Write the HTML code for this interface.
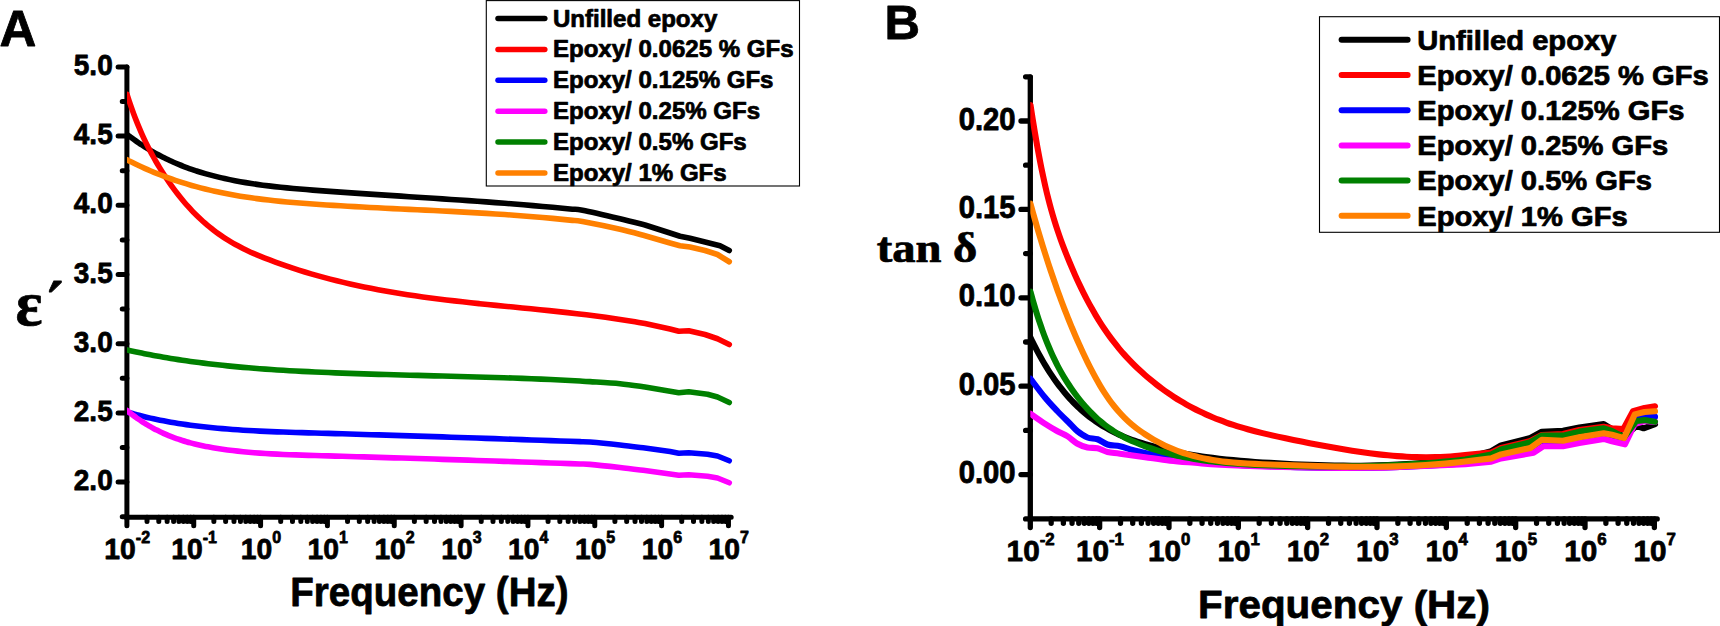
<!DOCTYPE html>
<html lang="en"><head><meta charset="utf-8"><title>Dielectric properties of epoxy / GF composites</title>
<style>html,body{margin:0;padding:0;background:#fff;overflow:hidden}svg{display:block}text{font-family:"Liberation Sans",sans-serif;font-weight:bold;fill:#000;stroke:#000;stroke-width:0.75px;stroke-linejoin:round}.serif{font-family:"Liberation Serif",serif;font-weight:bold}.ax{stroke:#000;stroke-linecap:round;fill:none}.cv{fill:none;stroke-linecap:round;stroke-linejoin:round}</style></head><body>
<svg width="1720" height="626" viewBox="0 0 1720 626">
<rect x="0" y="0" width="1720" height="626" fill="#ffffff"/>
<defs><clipPath id="clipA"><rect x="126.9" y="0" width="640" height="626"/></clipPath><clipPath id="clipB"><rect x="1030.3" y="0" width="690" height="626"/></clipPath></defs>
<g id="chartA" stroke-width="5">
<path class="ax" d="M126.90,66.90 V517.20 H731.20"/>
<path class="ax" d="M126.90,66.90 h-8.80 M126.90,136.10 h-8.80 M126.90,205.30 h-8.80 M126.90,274.50 h-8.80 M126.90,343.70 h-8.80 M126.90,412.90 h-8.80 M126.90,482.10 h-8.80 M126.90,101.50 h-4.65 M126.90,170.70 h-4.65 M126.90,239.90 h-4.65 M126.90,309.10 h-4.65 M126.90,378.30 h-4.65 M126.90,447.50 h-4.65 M126.90,516.70 h-4.65 M126.90,517.20 v8.60 M147.02,517.20 v4.20 M158.79,517.20 v4.20 M167.14,517.20 v4.20 M173.62,517.20 v4.20 M178.91,517.20 v4.20 M183.39,517.20 v4.20 M187.26,517.20 v4.20 M190.68,517.20 v4.20 M193.74,517.20 v8.60 M213.86,517.20 v4.20 M225.63,517.20 v4.20 M233.98,517.20 v4.20 M240.46,517.20 v4.20 M245.75,517.20 v4.20 M250.23,517.20 v4.20 M254.10,517.20 v4.20 M257.52,517.20 v4.20 M260.58,517.20 v8.60 M280.70,517.20 v4.20 M292.47,517.20 v4.20 M300.82,517.20 v4.20 M307.30,517.20 v4.20 M312.59,517.20 v4.20 M317.07,517.20 v4.20 M320.94,517.20 v4.20 M324.36,517.20 v4.20 M327.42,517.20 v8.60 M347.54,517.20 v4.20 M359.31,517.20 v4.20 M367.66,517.20 v4.20 M374.14,517.20 v4.20 M379.43,517.20 v4.20 M383.91,517.20 v4.20 M387.78,517.20 v4.20 M391.20,517.20 v4.20 M394.26,517.20 v8.60 M414.38,517.20 v4.20 M426.15,517.20 v4.20 M434.50,517.20 v4.20 M440.98,517.20 v4.20 M446.27,517.20 v4.20 M450.75,517.20 v4.20 M454.62,517.20 v4.20 M458.04,517.20 v4.20 M461.10,517.20 v8.60 M481.22,517.20 v4.20 M492.99,517.20 v4.20 M501.34,517.20 v4.20 M507.82,517.20 v4.20 M513.11,517.20 v4.20 M517.59,517.20 v4.20 M521.46,517.20 v4.20 M524.88,517.20 v4.20 M527.94,517.20 v8.60 M548.06,517.20 v4.20 M559.83,517.20 v4.20 M568.18,517.20 v4.20 M574.66,517.20 v4.20 M579.95,517.20 v4.20 M584.43,517.20 v4.20 M588.30,517.20 v4.20 M591.72,517.20 v4.20 M594.78,517.20 v8.60 M614.90,517.20 v4.20 M626.67,517.20 v4.20 M635.02,517.20 v4.20 M641.50,517.20 v4.20 M646.79,517.20 v4.20 M651.27,517.20 v4.20 M655.14,517.20 v4.20 M658.56,517.20 v4.20 M661.62,517.20 v8.60 M681.74,517.20 v4.20 M693.51,517.20 v4.20 M701.86,517.20 v4.20 M708.34,517.20 v4.20 M713.63,517.20 v4.20 M718.11,517.20 v4.20 M721.98,517.20 v4.20 M725.40,517.20 v4.20 M728.46,517.20 v8.60"/>
<g clip-path="url(#clipA)" stroke-width="5.6">
<path class="cv" stroke="#000000" d="M127.00,134.39 C127.37,134.67 128.45,135.51 129.21,136.08 C129.96,136.66 130.73,137.24 131.53,137.82 C132.32,138.40 133.12,138.99 133.95,139.59 C134.78,140.18 135.62,140.78 136.48,141.38 C137.34,141.98 138.23,142.59 139.12,143.20 C140.02,143.81 140.94,144.42 141.87,145.03 C142.81,145.64 143.76,146.26 144.73,146.87 C145.70,147.49 146.69,148.10 147.70,148.72 C148.70,149.34 149.73,149.95 150.77,150.57 C151.81,151.18 152.87,151.79 153.95,152.41 C155.03,153.02 156.13,153.63 157.24,154.23 C158.36,154.84 159.49,155.44 160.64,156.04 C161.79,156.64 162.96,157.24 164.14,157.83 C165.33,158.42 166.54,159.01 167.76,159.59 C168.98,160.17 170.22,160.75 171.48,161.32 C172.74,161.89 174.02,162.46 175.31,163.01 C176.61,163.57 177.92,164.12 179.25,164.67 C180.58,165.21 181.93,165.75 183.30,166.28 C184.66,166.81 186.05,167.33 187.45,167.84 C188.85,168.36 190.28,168.86 191.71,169.36 C193.15,169.86 194.61,170.35 196.09,170.83 C197.56,171.30 199.05,171.78 200.57,172.24 C202.08,172.70 203.61,173.15 205.15,173.60 C206.70,174.04 208.27,174.48 209.85,174.91 C211.43,175.33 213.03,175.75 214.65,176.16 C216.27,176.57 217.91,176.97 219.56,177.36 C221.22,177.76 222.89,178.14 224.58,178.52 C226.28,178.89 227.98,179.26 229.71,179.62 C231.44,179.98 233.18,180.33 234.95,180.67 C236.71,181.01 238.49,181.34 240.29,181.67 C242.09,181.99 243.91,182.31 245.75,182.62 C247.58,182.92 249.43,183.22 251.31,183.51 C253.18,183.80 255.07,184.08 256.97,184.36 C258.88,184.63 260.81,184.90 262.75,185.15 C264.70,185.41 266.66,185.66 268.64,185.90 C270.62,186.15 272.61,186.38 274.63,186.61 C276.65,186.83 278.68,187.05 280.73,187.27 C282.78,187.48 284.85,187.69 286.94,187.89 C289.03,188.09 291.13,188.29 293.26,188.48 C295.38,188.67 297.52,188.86 299.68,189.04 C301.84,189.22 304.02,189.40 306.22,189.57 C308.41,189.75 310.63,189.92 312.86,190.09 C315.09,190.26 317.34,190.43 319.61,190.60 C321.88,190.77 324.16,190.93 326.47,191.10 C328.77,191.27 331.09,191.44 333.43,191.60 C335.77,191.77 338.13,191.94 340.51,192.10 C342.89,192.27 345.28,192.44 347.69,192.60 C350.10,192.77 352.53,192.94 354.98,193.10 C357.43,193.27 359.90,193.44 362.38,193.61 C364.87,193.77 367.37,193.94 369.89,194.11 C372.41,194.27 374.95,194.44 377.50,194.61 C380.06,194.78 382.64,194.95 385.23,195.12 C387.82,195.29 390.43,195.46 393.06,195.63 C395.69,195.80 398.33,195.97 401.00,196.14 C403.66,196.32 406.35,196.49 409.05,196.67 C411.75,196.84 414.47,197.02 417.20,197.20 C419.94,197.38 422.69,197.55 425.47,197.74 C428.24,197.92 431.03,198.10 433.84,198.29 C436.65,198.47 439.47,198.66 442.32,198.85 C445.16,199.04 448.03,199.23 450.91,199.42 C453.79,199.62 456.69,199.82 459.60,200.02 C462.52,200.22 465.46,200.42 468.41,200.63 C471.36,200.83 474.33,201.04 477.32,201.26 C480.31,201.47 483.32,201.69 486.34,201.91 C489.37,202.13 492.41,202.36 495.47,202.59 C498.53,202.82 501.61,203.05 504.71,203.29 C507.81,203.53 510.92,203.78 514.05,204.03 C517.19,204.28 520.34,204.53 523.51,204.80 C526.68,205.06 529.86,205.33 533.07,205.60 C536.27,205.88 539.50,206.16 542.74,206.44 C545.98,206.73 549.24,207.03 552.52,207.33 C555.79,207.63 559.09,207.94 562.40,208.26 C565.72,208.58 569.05,208.91 572.40,209.24 C575.75,209.58 574.57,208.70 582.50,210.28 C590.43,211.86 609.58,216.30 620.00,218.75 C630.42,221.20 640.83,223.96 645.00,225.00 L670.00,233.00 L680.00,236.25 L690.00,238.25 L705.00,242.00 L720.00,245.75 L729.25,250.50"/>
<path class="cv" stroke="#ff0000" d="M127.00,94.36 C127.36,95.48 128.44,98.84 129.18,101.06 C129.92,103.28 130.68,105.49 131.45,107.68 C132.23,109.88 133.01,112.06 133.82,114.22 C134.62,116.38 135.44,118.52 136.28,120.64 C137.11,122.76 137.96,124.86 138.83,126.93 C139.70,129.01 140.58,131.06 141.48,133.08 C142.37,135.11 143.29,137.11 144.21,139.09 C145.14,141.07 146.09,143.02 147.05,144.95 C148.01,146.88 148.98,148.78 149.97,150.67 C150.96,152.55 151.97,154.41 152.99,156.26 C154.01,158.10 155.05,159.92 156.10,161.73 C157.15,163.55 158.22,165.34 159.31,167.13 C160.39,168.92 161.49,170.69 162.60,172.45 C163.72,174.21 164.85,175.96 166.00,177.69 C167.14,179.42 168.30,181.13 169.48,182.83 C170.66,184.52 171.85,186.20 173.06,187.86 C174.27,189.52 175.49,191.16 176.73,192.77 C177.97,194.39 179.22,195.98 180.49,197.55 C181.76,199.13 183.05,200.68 184.35,202.20 C185.65,203.73 186.97,205.23 188.30,206.70 C189.63,208.18 190.98,209.63 192.34,211.06 C193.71,212.49 195.09,213.89 196.48,215.26 C197.87,216.64 199.28,217.99 200.71,219.31 C202.14,220.63 203.58,221.92 205.03,223.19 C206.49,224.46 207.96,225.70 209.45,226.91 C210.94,228.12 212.44,229.31 213.96,230.46 C215.48,231.62 217.01,232.75 218.56,233.85 C220.11,234.96 221.68,236.03 223.26,237.08 C224.84,238.13 226.44,239.15 228.05,240.15 C229.66,241.14 231.29,242.11 232.93,243.06 C234.57,244.00 236.23,244.92 237.91,245.82 C239.58,246.72 241.27,247.59 242.97,248.45 C244.68,249.30 246.40,250.13 248.14,250.94 C249.87,251.76 251.62,252.55 253.39,253.33 C255.16,254.10 256.94,254.86 258.74,255.61 C260.54,256.36 262.35,257.09 264.18,257.82 C266.01,258.54 267.86,259.25 269.72,259.96 C271.58,260.67 273.45,261.37 275.35,262.06 C277.24,262.76 279.14,263.45 281.07,264.13 C282.99,264.81 284.93,265.49 286.88,266.16 C288.83,266.83 290.80,267.49 292.79,268.14 C294.77,268.80 296.77,269.45 298.79,270.09 C300.81,270.73 302.84,271.36 304.88,271.99 C306.93,272.61 308.99,273.23 311.07,273.84 C313.15,274.45 315.24,275.06 317.35,275.65 C319.46,276.25 321.59,276.83 323.73,277.41 C325.87,277.99 328.02,278.56 330.19,279.13 C332.36,279.69 334.55,280.24 336.75,280.79 C338.95,281.33 341.17,281.87 343.41,282.40 C345.64,282.93 347.89,283.45 350.15,283.96 C352.42,284.48 354.70,284.98 356.99,285.48 C359.29,285.97 361.60,286.46 363.92,286.94 C366.25,287.42 368.59,287.89 370.95,288.35 C373.31,288.81 375.68,289.26 378.07,289.71 C380.46,290.16 382.86,290.59 385.28,291.02 C387.70,291.45 390.14,291.88 392.59,292.29 C395.04,292.70 397.51,293.11 399.99,293.51 C402.47,293.91 404.97,294.30 407.48,294.68 C409.99,295.07 412.52,295.44 415.07,295.81 C417.61,296.18 420.17,296.55 422.74,296.90 C425.32,297.26 427.91,297.61 430.52,297.95 C433.12,298.30 435.74,298.64 438.38,298.97 C441.02,299.30 443.67,299.63 446.34,299.95 C449.01,300.27 451.69,300.59 454.39,300.90 C457.09,301.21 459.80,301.52 462.53,301.83 C465.27,302.13 468.01,302.43 470.77,302.73 C473.53,303.03 476.31,303.32 479.10,303.61 C481.90,303.91 484.70,304.19 487.53,304.48 C490.35,304.77 493.19,305.06 496.05,305.34 C498.90,305.63 501.77,305.92 504.66,306.20 C507.54,306.49 510.44,306.77 513.36,307.06 C516.28,307.35 519.21,307.64 522.16,307.93 C525.10,308.22 528.07,308.51 531.05,308.81 C534.03,309.11 537.02,309.41 540.03,309.72 C543.04,310.02 546.07,310.33 549.11,310.65 C552.15,310.97 555.20,311.29 558.28,311.62 C561.35,311.95 564.44,312.29 567.54,312.64 C570.64,312.98 573.76,313.34 576.90,313.70 C580.03,314.07 583.18,314.45 586.35,314.84 C589.51,315.22 592.69,315.62 595.89,316.04 C599.09,316.45 602.30,316.88 605.52,317.33 C608.75,317.77 611.99,318.23 615.25,318.71 C618.51,319.18 621.79,319.67 625.08,320.19 C628.37,320.70 631.67,321.23 634.99,321.79 C638.31,322.34 643.33,323.23 645.00,323.52 L670.00,329.00 L678.75,331.25 L688.75,330.75 L705.00,334.50 L717.50,338.75 L729.25,344.50"/>
<path class="cv" stroke="#0000ff" d="M127.00,412.01 C127.36,412.12 128.44,412.43 129.18,412.65 C129.93,412.87 130.69,413.08 131.47,413.30 C132.25,413.53 133.05,413.75 133.87,413.97 C134.68,414.20 135.51,414.42 136.36,414.65 C137.21,414.88 138.08,415.10 138.96,415.33 C139.85,415.56 140.75,415.79 141.67,416.03 C142.59,416.26 143.52,416.49 144.48,416.72 C145.43,416.95 146.40,417.18 147.39,417.42 C148.38,417.65 149.39,417.88 150.41,418.11 C151.43,418.34 152.47,418.58 153.53,418.81 C154.59,419.04 155.67,419.27 156.76,419.50 C157.85,419.73 158.96,419.95 160.09,420.18 C161.22,420.41 162.36,420.63 163.52,420.85 C164.69,421.08 165.87,421.30 167.06,421.52 C168.26,421.74 169.48,421.96 170.71,422.17 C171.94,422.39 173.19,422.60 174.45,422.81 C175.72,423.02 177.00,423.23 178.31,423.44 C179.61,423.64 180.93,423.85 182.26,424.05 C183.60,424.25 184.95,424.45 186.32,424.64 C187.69,424.83 189.08,425.03 190.49,425.21 C191.89,425.40 193.31,425.59 194.75,425.77 C196.19,425.95 197.65,426.13 199.13,426.30 C200.60,426.48 202.09,426.65 203.60,426.81 C205.11,426.98 206.64,427.15 208.19,427.31 C209.73,427.47 211.29,427.62 212.87,427.78 C214.45,427.93 216.05,428.08 217.66,428.23 C219.27,428.37 220.91,428.52 222.55,428.66 C224.20,428.80 225.87,428.93 227.55,429.07 C229.24,429.20 230.94,429.33 232.65,429.45 C234.37,429.58 236.11,429.70 237.86,429.82 C239.61,429.94 241.38,430.06 243.17,430.17 C244.96,430.28 246.76,430.39 248.59,430.49 C250.41,430.60 252.25,430.70 254.10,430.80 C255.96,430.90 257.84,431.00 259.73,431.09 C261.62,431.18 263.53,431.27 265.46,431.36 C267.38,431.44 269.33,431.53 271.29,431.61 C273.25,431.69 275.23,431.77 277.22,431.85 C279.22,431.92 281.23,432.00 283.26,432.07 C285.29,432.14 287.34,432.21 289.41,432.28 C291.47,432.35 293.55,432.41 295.66,432.48 C297.76,432.54 299.87,432.61 302.01,432.67 C304.14,432.73 306.29,432.80 308.46,432.86 C310.63,432.92 312.82,432.98 315.03,433.04 C317.23,433.11 319.45,433.17 321.69,433.23 C323.93,433.30 326.19,433.36 328.46,433.42 C330.73,433.49 333.03,433.56 335.33,433.62 C337.64,433.69 339.97,433.76 342.31,433.82 C344.66,433.89 347.02,433.96 349.39,434.03 C351.77,434.10 354.17,434.17 356.58,434.24 C358.99,434.31 361.42,434.39 363.87,434.46 C366.32,434.53 368.78,434.61 371.27,434.68 C373.75,434.76 376.25,434.83 378.76,434.91 C381.28,434.98 383.82,435.06 386.37,435.14 C388.92,435.22 391.49,435.30 394.07,435.38 C396.66,435.46 399.27,435.54 401.89,435.62 C404.51,435.70 407.15,435.78 409.80,435.87 C412.46,435.95 415.13,436.03 417.82,436.12 C420.51,436.20 423.22,436.29 425.95,436.38 C428.67,436.47 431.41,436.55 434.17,436.64 C436.93,436.73 439.71,436.82 442.51,436.91 C445.30,437.00 448.11,437.09 450.94,437.19 C453.77,437.28 456.62,437.37 459.48,437.47 C462.35,437.56 465.23,437.66 468.13,437.75 C471.03,437.85 473.95,437.95 476.88,438.05 C479.81,438.15 482.76,438.25 485.73,438.35 C488.70,438.45 491.69,438.55 494.69,438.65 C497.69,438.75 500.71,438.86 503.75,438.96 C506.79,439.06 509.85,439.17 512.92,439.28 C515.99,439.38 519.08,439.49 522.19,439.60 C525.30,439.71 528.42,439.82 531.56,439.93 C534.71,440.04 537.87,440.15 541.04,440.26 C544.22,440.38 547.41,440.49 550.63,440.60 C553.84,440.72 557.07,440.83 560.31,440.95 C563.56,441.07 566.82,441.19 570.10,441.30 C573.39,441.42 576.68,441.54 580.00,441.66 C583.32,441.78 583.33,441.47 590.00,442.03 C596.67,442.59 610.83,444.00 620.00,445.00 C629.17,446.00 640.83,447.50 645.00,448.00 L670.00,451.50 L678.75,453.25 L688.75,452.75 L707.50,454.25 L717.50,456.00 L729.25,460.75"/>
<path class="cv" stroke="#ff00ff" d="M127.00,410.52 C127.36,410.81 128.44,411.69 129.18,412.29 C129.93,412.88 130.69,413.48 131.47,414.08 C132.25,414.68 133.05,415.28 133.87,415.88 C134.68,416.49 135.51,417.09 136.36,417.70 C137.21,418.31 138.08,418.91 138.96,419.52 C139.85,420.13 140.75,420.73 141.67,421.34 C142.59,421.94 143.52,422.54 144.48,423.14 C145.43,423.74 146.40,424.34 147.39,424.93 C148.38,425.52 149.39,426.11 150.41,426.69 C151.43,427.27 152.47,427.85 153.53,428.42 C154.59,428.99 155.67,429.56 156.76,430.11 C157.85,430.67 158.96,431.22 160.09,431.77 C161.22,432.31 162.36,432.84 163.52,433.37 C164.69,433.89 165.87,434.41 167.06,434.92 C168.26,435.43 169.48,435.92 170.71,436.41 C171.94,436.90 173.19,437.38 174.45,437.84 C175.72,438.31 177.00,438.77 178.31,439.21 C179.61,439.66 180.93,440.09 182.26,440.51 C183.60,440.93 184.95,441.34 186.32,441.74 C187.69,442.14 189.08,442.53 190.49,442.90 C191.89,443.28 193.31,443.64 194.75,444.00 C196.19,444.35 197.65,444.69 199.13,445.02 C200.60,445.35 202.09,445.67 203.60,445.98 C205.11,446.29 206.64,446.58 208.19,446.87 C209.73,447.16 211.29,447.44 212.87,447.71 C214.45,447.98 216.05,448.23 217.66,448.49 C219.27,448.74 220.91,448.98 222.55,449.22 C224.20,449.46 225.87,449.69 227.55,449.91 C229.24,450.13 230.94,450.34 232.65,450.55 C234.37,450.76 236.11,450.96 237.86,451.15 C239.61,451.34 241.38,451.53 243.17,451.71 C244.96,451.88 246.76,452.06 248.59,452.22 C250.41,452.38 252.25,452.54 254.10,452.69 C255.96,452.84 257.84,452.98 259.73,453.11 C261.62,453.25 263.53,453.38 265.46,453.50 C267.38,453.62 269.33,453.74 271.29,453.85 C273.25,453.96 275.23,454.06 277.22,454.16 C279.22,454.26 281.23,454.35 283.26,454.44 C285.29,454.53 287.34,454.61 289.41,454.70 C291.47,454.78 293.55,454.85 295.66,454.92 C297.76,455.00 299.87,455.07 302.01,455.13 C304.14,455.20 306.29,455.27 308.46,455.33 C310.63,455.39 312.82,455.46 315.03,455.52 C317.23,455.58 319.45,455.64 321.69,455.70 C323.93,455.77 326.19,455.83 328.46,455.90 C330.73,455.96 333.03,456.03 335.33,456.09 C337.64,456.16 339.97,456.22 342.31,456.29 C344.66,456.36 347.02,456.43 349.39,456.50 C351.77,456.57 354.17,456.64 356.58,456.71 C358.99,456.78 361.42,456.85 363.87,456.92 C366.32,456.99 368.78,457.07 371.27,457.14 C373.75,457.21 376.25,457.29 378.76,457.36 C381.28,457.44 383.82,457.52 386.37,457.59 C388.92,457.67 391.49,457.75 394.07,457.83 C396.66,457.90 399.27,457.98 401.89,458.07 C404.51,458.15 407.15,458.23 409.80,458.31 C412.46,458.39 415.13,458.47 417.82,458.56 C420.51,458.64 423.22,458.73 425.95,458.81 C428.67,458.90 431.41,458.99 434.17,459.07 C436.93,459.16 439.71,459.25 442.51,459.34 C445.30,459.43 448.11,459.52 450.94,459.61 C453.77,459.70 456.62,459.79 459.48,459.88 C462.35,459.98 465.23,460.07 468.13,460.17 C471.03,460.26 473.95,460.36 476.88,460.45 C479.81,460.55 482.76,460.65 485.73,460.75 C488.70,460.85 491.69,460.95 494.69,461.05 C497.69,461.15 500.71,461.25 503.75,461.35 C506.79,461.45 509.85,461.56 512.92,461.66 C515.99,461.77 519.08,461.87 522.19,461.98 C525.30,462.08 528.42,462.19 531.56,462.30 C534.71,462.41 537.87,462.52 541.04,462.63 C544.22,462.74 547.41,462.85 550.63,462.96 C553.84,463.08 557.07,463.19 560.31,463.30 C563.56,463.42 566.82,463.53 570.10,463.65 C573.39,463.77 576.68,463.89 580.00,464.00 C583.32,464.12 583.33,463.78 590.00,464.36 C596.67,464.95 610.83,466.48 620.00,467.50 C629.17,468.52 640.83,470.00 645.00,470.50 L670.00,474.00 L678.75,475.25 L688.75,474.75 L707.50,476.25 L717.50,478.00 L729.25,482.75"/>
<path class="cv" stroke="#008000" d="M127.00,349.95 C127.36,350.03 128.44,350.28 129.18,350.44 C129.93,350.61 130.69,350.77 131.47,350.94 C132.25,351.11 133.05,351.29 133.87,351.46 C134.68,351.64 135.51,351.81 136.36,351.99 C137.21,352.17 138.08,352.35 138.96,352.54 C139.85,352.72 140.75,352.90 141.67,353.09 C142.59,353.28 143.52,353.46 144.48,353.65 C145.43,353.84 146.40,354.04 147.39,354.23 C148.38,354.42 149.39,354.61 150.41,354.81 C151.43,355.00 152.47,355.20 153.53,355.40 C154.59,355.59 155.67,355.79 156.76,355.99 C157.85,356.19 158.96,356.39 160.09,356.59 C161.22,356.79 162.36,356.99 163.52,357.19 C164.69,357.39 165.87,357.59 167.06,357.80 C168.26,358.00 169.48,358.20 170.71,358.40 C171.94,358.60 173.19,358.80 174.45,359.01 C175.72,359.21 177.00,359.41 178.31,359.61 C179.61,359.81 180.93,360.01 182.26,360.21 C183.60,360.41 184.95,360.61 186.32,360.81 C187.69,361.00 189.08,361.20 190.49,361.40 C191.89,361.60 193.31,361.79 194.75,361.99 C196.19,362.18 197.65,362.37 199.13,362.57 C200.60,362.76 202.09,362.95 203.60,363.14 C205.11,363.33 206.64,363.52 208.19,363.70 C209.73,363.89 211.29,364.07 212.87,364.26 C214.45,364.44 216.05,364.62 217.66,364.80 C219.27,364.98 220.91,365.16 222.55,365.33 C224.20,365.51 225.87,365.68 227.55,365.86 C229.24,366.03 230.94,366.20 232.65,366.36 C234.37,366.53 236.11,366.70 237.86,366.86 C239.61,367.02 241.38,367.18 243.17,367.34 C244.96,367.50 246.76,367.65 248.59,367.81 C250.41,367.96 252.25,368.11 254.10,368.26 C255.96,368.41 257.84,368.56 259.73,368.70 C261.62,368.84 263.53,368.98 265.46,369.12 C267.38,369.26 269.33,369.40 271.29,369.53 C273.25,369.66 275.23,369.79 277.22,369.92 C279.22,370.05 281.23,370.18 283.26,370.30 C285.29,370.43 287.34,370.55 289.41,370.67 C291.47,370.78 293.55,370.90 295.66,371.02 C297.76,371.13 299.87,371.24 302.01,371.35 C304.14,371.46 306.29,371.57 308.46,371.67 C310.63,371.78 312.82,371.88 315.03,371.99 C317.23,372.09 319.45,372.19 321.69,372.29 C323.93,372.38 326.19,372.48 328.46,372.57 C330.73,372.67 333.03,372.76 335.33,372.85 C337.64,372.95 339.97,373.04 342.31,373.12 C344.66,373.21 347.02,373.30 349.39,373.38 C351.77,373.47 354.17,373.55 356.58,373.64 C358.99,373.72 361.42,373.80 363.87,373.88 C366.32,373.96 368.78,374.04 371.27,374.11 C373.75,374.19 376.25,374.27 378.76,374.34 C381.28,374.42 383.82,374.49 386.37,374.56 C388.92,374.64 391.49,374.71 394.07,374.78 C396.66,374.85 399.27,374.92 401.89,374.99 C404.51,375.07 407.15,375.13 409.80,375.20 C412.46,375.27 415.13,375.34 417.82,375.41 C420.51,375.48 423.22,375.55 425.95,375.62 C428.67,375.69 431.41,375.76 434.17,375.83 C436.93,375.90 439.71,375.97 442.51,376.04 C445.30,376.11 448.11,376.18 450.94,376.26 C453.77,376.33 456.62,376.40 459.48,376.48 C462.35,376.55 465.23,376.63 468.13,376.71 C471.03,376.79 473.95,376.87 476.88,376.95 C479.81,377.03 482.76,377.12 485.73,377.21 C488.70,377.29 491.69,377.38 494.69,377.47 C497.69,377.57 500.71,377.66 503.75,377.76 C506.79,377.86 509.85,377.96 512.92,378.07 C515.99,378.17 519.08,378.28 522.19,378.40 C525.30,378.51 528.42,378.63 531.56,378.76 C534.71,378.88 537.87,379.01 541.04,379.14 C544.22,379.28 547.41,379.42 550.63,379.56 C553.84,379.71 557.07,379.86 560.31,380.02 C563.56,380.18 566.82,380.34 570.10,380.52 C573.39,380.69 576.68,380.87 580.00,381.06 C583.32,381.25 583.33,381.20 590.00,381.65 C596.67,382.10 610.83,382.86 620.00,383.75 C629.17,384.64 640.83,386.46 645.00,387.00 L670.00,391.25 L678.75,392.75 L688.75,391.75 L707.50,394.25 L717.50,397.00 L729.25,402.50"/>
<path class="cv" stroke="#ff8000" d="M127.00,159.77 C127.37,159.96 128.45,160.52 129.21,160.91 C129.96,161.29 130.73,161.69 131.53,162.08 C132.32,162.48 133.12,162.88 133.95,163.29 C134.78,163.70 135.62,164.11 136.48,164.52 C137.34,164.94 138.23,165.36 139.12,165.78 C140.02,166.20 140.94,166.63 141.87,167.06 C142.81,167.49 143.76,167.92 144.73,168.36 C145.70,168.79 146.69,169.23 147.70,169.67 C148.70,170.11 149.73,170.55 150.77,171.00 C151.81,171.44 152.87,171.88 153.95,172.33 C155.03,172.78 156.13,173.22 157.24,173.67 C158.36,174.12 159.49,174.56 160.64,175.01 C161.79,175.46 162.96,175.90 164.14,176.35 C165.33,176.80 166.54,177.24 167.76,177.69 C168.98,178.13 170.22,178.57 171.48,179.01 C172.74,179.45 174.02,179.89 175.31,180.33 C176.61,180.77 177.92,181.20 179.25,181.64 C180.58,182.07 181.93,182.50 183.30,182.92 C184.66,183.35 186.05,183.77 187.45,184.19 C188.85,184.61 190.28,185.02 191.71,185.44 C193.15,185.85 194.61,186.25 196.09,186.66 C197.56,187.06 199.05,187.46 200.57,187.85 C202.08,188.24 203.61,188.63 205.15,189.01 C206.70,189.39 208.27,189.77 209.85,190.14 C211.43,190.52 213.03,190.88 214.65,191.24 C216.27,191.60 217.91,191.96 219.56,192.30 C221.22,192.65 222.89,192.99 224.58,193.33 C226.28,193.66 227.98,193.99 229.71,194.31 C231.44,194.63 233.18,194.95 234.95,195.26 C236.71,195.57 238.49,195.87 240.29,196.16 C242.09,196.46 243.91,196.75 245.75,197.03 C247.58,197.31 249.43,197.58 251.31,197.85 C253.18,198.12 255.07,198.38 256.97,198.63 C258.88,198.89 260.81,199.13 262.75,199.37 C264.70,199.61 266.66,199.85 268.64,200.08 C270.62,200.30 272.61,200.52 274.63,200.74 C276.65,200.95 278.68,201.16 280.73,201.36 C282.78,201.57 284.85,201.76 286.94,201.95 C289.03,202.15 291.13,202.33 293.26,202.51 C295.38,202.69 297.52,202.87 299.68,203.04 C301.84,203.21 304.02,203.38 306.22,203.54 C308.41,203.71 310.63,203.87 312.86,204.02 C315.09,204.18 317.34,204.34 319.61,204.49 C321.88,204.64 324.16,204.79 326.47,204.94 C328.77,205.09 331.09,205.23 333.43,205.38 C335.77,205.52 338.13,205.66 340.51,205.81 C342.89,205.95 345.28,206.09 347.69,206.22 C350.10,206.36 352.53,206.50 354.98,206.63 C357.43,206.77 359.90,206.90 362.38,207.04 C364.87,207.17 367.37,207.30 369.89,207.43 C372.41,207.56 374.95,207.69 377.50,207.82 C380.06,207.95 382.64,208.08 385.23,208.21 C387.82,208.33 390.43,208.46 393.06,208.59 C395.69,208.72 398.33,208.85 401.00,208.98 C403.66,209.10 406.35,209.23 409.05,209.36 C411.75,209.49 414.47,209.62 417.20,209.75 C419.94,209.89 422.69,210.02 425.47,210.15 C428.24,210.29 431.03,210.42 433.84,210.56 C436.65,210.70 439.47,210.84 442.32,210.98 C445.16,211.13 448.03,211.27 450.91,211.42 C453.79,211.57 456.69,211.72 459.60,211.88 C462.52,212.03 465.46,212.19 468.41,212.35 C471.36,212.52 474.33,212.69 477.32,212.86 C480.31,213.03 483.32,213.21 486.34,213.39 C489.37,213.58 492.41,213.77 495.47,213.97 C498.53,214.16 501.61,214.36 504.71,214.58 C507.81,214.79 510.92,215.00 514.05,215.23 C517.19,215.46 520.34,215.69 523.51,215.93 C526.68,216.18 529.86,216.43 533.07,216.69 C536.27,216.95 539.50,217.23 542.74,217.51 C545.98,217.79 549.24,218.09 552.52,218.39 C555.79,218.70 559.09,219.02 562.40,219.35 C565.72,219.68 569.05,220.03 572.40,220.39 C575.75,220.75 574.57,220.03 582.50,221.51 C590.43,222.99 609.58,226.88 620.00,229.25 C630.42,231.62 640.83,234.67 645.00,235.75 L670.00,243.00 L680.00,245.75 L690.00,247.00 L705.00,250.50 L717.50,254.50 L729.25,261.75"/>
</g>
<text transform="translate(112.70,75.00) scale(1.000,1.070)" font-size="28" text-anchor="end">5.0</text>
<text transform="translate(112.70,144.20) scale(1.000,1.070)" font-size="28" text-anchor="end">4.5</text>
<text transform="translate(112.70,213.40) scale(1.000,1.070)" font-size="28" text-anchor="end">4.0</text>
<text transform="translate(112.70,282.60) scale(1.000,1.070)" font-size="28" text-anchor="end">3.5</text>
<text transform="translate(112.70,351.80) scale(1.000,1.070)" font-size="28" text-anchor="end">3.0</text>
<text transform="translate(112.70,421.00) scale(1.000,1.070)" font-size="28" text-anchor="end">2.5</text>
<text transform="translate(112.70,490.20) scale(1.000,1.070)" font-size="28" text-anchor="end">2.0</text>
<text transform="translate(127.20,559.00) scale(1.000,1.050)" font-size="28.3" text-anchor="middle">10<tspan font-size="16" dy="-14.9">-2</tspan></text>
<text transform="translate(194.04,559.00) scale(1.000,1.050)" font-size="28.3" text-anchor="middle">10<tspan font-size="16" dy="-14.9">-1</tspan></text>
<text transform="translate(260.88,559.00) scale(1.000,1.050)" font-size="28.3" text-anchor="middle">10<tspan font-size="16" dy="-14.9">0</tspan></text>
<text transform="translate(327.72,559.00) scale(1.000,1.050)" font-size="28.3" text-anchor="middle">10<tspan font-size="16" dy="-14.9">1</tspan></text>
<text transform="translate(394.56,559.00) scale(1.000,1.050)" font-size="28.3" text-anchor="middle">10<tspan font-size="16" dy="-14.9">2</tspan></text>
<text transform="translate(461.40,559.00) scale(1.000,1.050)" font-size="28.3" text-anchor="middle">10<tspan font-size="16" dy="-14.9">3</tspan></text>
<text transform="translate(528.24,559.00) scale(1.000,1.050)" font-size="28.3" text-anchor="middle">10<tspan font-size="16" dy="-14.9">4</tspan></text>
<text transform="translate(595.08,559.00) scale(1.000,1.050)" font-size="28.3" text-anchor="middle">10<tspan font-size="16" dy="-14.9">5</tspan></text>
<text transform="translate(661.92,559.00) scale(1.000,1.050)" font-size="28.3" text-anchor="middle">10<tspan font-size="16" dy="-14.9">6</tspan></text>
<text transform="translate(728.76,559.00) scale(1.000,1.050)" font-size="28.3" text-anchor="middle">10<tspan font-size="16" dy="-14.9">7</tspan></text>
<text transform="translate(290.30,605.70) scale(0.988,1.040)" font-size="39">Frequency (Hz)</text>
<text transform="translate(-0.60,46.20) scale(1.030,1.000)" font-size="49.5">A</text>
<text transform="translate(15.50,325.00) scale(0.985,0.985)" font-size="64" class="serif">ε</text>
<text transform="translate(45.30,331.00) scale(0.870,1.120)" font-size="64" class="serif">´</text>
<rect x="486.30" y="0.60" width="313.20" height="185.40" fill="#fff" stroke="#000" stroke-width="1.1"/>
<path class="cv" stroke="#000000" stroke-width="5.5" d="M498.00,18.60 H544.80"/>
<text transform="translate(552.90,26.50) scale(1.003,1.000)" font-size="24">Unfilled epoxy</text>
<path class="cv" stroke="#ff0000" stroke-width="5.5" d="M498.00,49.46 H544.80"/>
<text transform="translate(552.90,57.36) scale(1.003,1.000)" font-size="24">Epoxy/ 0.0625 % GFs</text>
<path class="cv" stroke="#0000ff" stroke-width="5.5" d="M498.00,80.32 H544.80"/>
<text transform="translate(552.90,88.22) scale(1.003,1.000)" font-size="24">Epoxy/ 0.125% GFs</text>
<path class="cv" stroke="#ff00ff" stroke-width="5.5" d="M498.00,111.18 H544.80"/>
<text transform="translate(552.90,119.08) scale(1.003,1.000)" font-size="24">Epoxy/ 0.25% GFs</text>
<path class="cv" stroke="#008000" stroke-width="5.5" d="M498.00,142.04 H544.80"/>
<text transform="translate(552.90,149.94) scale(1.003,1.000)" font-size="24">Epoxy/ 0.5% GFs</text>
<path class="cv" stroke="#ff8000" stroke-width="5.5" d="M498.00,172.90 H544.80"/>
<text transform="translate(552.90,180.80) scale(1.003,1.000)" font-size="24">Epoxy/ 1% GFs</text>
</g>
<g id="chartB" stroke-width="5.3">
<path class="ax" d="M1030.30,77.10 V518.90 H1657.20"/>
<path class="ax" d="M1030.30,121.00 h-9.30 M1030.30,209.40 h-9.30 M1030.30,297.80 h-9.30 M1030.30,386.20 h-9.30 M1030.30,474.60 h-9.30 M1030.30,76.80 h-4.70 M1030.30,165.20 h-4.70 M1030.30,253.60 h-4.70 M1030.30,342.00 h-4.70 M1030.30,430.40 h-4.70 M1030.30,518.90 h-4.70 M1030.30,518.90 v8.60 M1051.17,518.90 v4.40 M1063.38,518.90 v4.40 M1072.05,518.90 v4.40 M1078.77,518.90 v4.40 M1084.26,518.90 v4.40 M1088.90,518.90 v4.40 M1092.92,518.90 v4.40 M1096.47,518.90 v4.40 M1099.64,518.90 v8.60 M1120.51,518.90 v4.40 M1132.72,518.90 v4.40 M1141.39,518.90 v4.40 M1148.11,518.90 v4.40 M1153.60,518.90 v4.40 M1158.24,518.90 v4.40 M1162.26,518.90 v4.40 M1165.81,518.90 v4.40 M1168.98,518.90 v8.60 M1189.85,518.90 v4.40 M1202.06,518.90 v4.40 M1210.73,518.90 v4.40 M1217.45,518.90 v4.40 M1222.94,518.90 v4.40 M1227.58,518.90 v4.40 M1231.60,518.90 v4.40 M1235.15,518.90 v4.40 M1238.32,518.90 v8.60 M1259.19,518.90 v4.40 M1271.40,518.90 v4.40 M1280.07,518.90 v4.40 M1286.79,518.90 v4.40 M1292.28,518.90 v4.40 M1296.92,518.90 v4.40 M1300.94,518.90 v4.40 M1304.49,518.90 v4.40 M1307.66,518.90 v8.60 M1328.53,518.90 v4.40 M1340.74,518.90 v4.40 M1349.41,518.90 v4.40 M1356.13,518.90 v4.40 M1361.62,518.90 v4.40 M1366.26,518.90 v4.40 M1370.28,518.90 v4.40 M1373.83,518.90 v4.40 M1377.00,518.90 v8.60 M1397.87,518.90 v4.40 M1410.08,518.90 v4.40 M1418.75,518.90 v4.40 M1425.47,518.90 v4.40 M1430.96,518.90 v4.40 M1435.60,518.90 v4.40 M1439.62,518.90 v4.40 M1443.17,518.90 v4.40 M1446.34,518.90 v8.60 M1467.21,518.90 v4.40 M1479.42,518.90 v4.40 M1488.09,518.90 v4.40 M1494.81,518.90 v4.40 M1500.30,518.90 v4.40 M1504.94,518.90 v4.40 M1508.96,518.90 v4.40 M1512.51,518.90 v4.40 M1515.68,518.90 v8.60 M1536.55,518.90 v4.40 M1548.76,518.90 v4.40 M1557.43,518.90 v4.40 M1564.15,518.90 v4.40 M1569.64,518.90 v4.40 M1574.28,518.90 v4.40 M1578.30,518.90 v4.40 M1581.85,518.90 v4.40 M1585.02,518.90 v8.60 M1605.89,518.90 v4.40 M1618.10,518.90 v4.40 M1626.77,518.90 v4.40 M1633.49,518.90 v4.40 M1638.98,518.90 v4.40 M1643.62,518.90 v4.40 M1647.64,518.90 v4.40 M1651.19,518.90 v4.40 M1654.36,518.90 v8.60"/>
<g clip-path="url(#clipB)" stroke-width="6.1">
<path class="cv" stroke="#000000" d="M1030.50,337.67 C1030.87,338.42 1031.95,340.66 1032.70,342.17 C1033.45,343.69 1034.22,345.22 1035.01,346.75 C1035.80,348.29 1036.61,349.83 1037.43,351.38 C1038.26,352.93 1039.10,354.49 1039.97,356.04 C1040.83,357.60 1041.71,359.16 1042.62,360.72 C1043.52,362.27 1044.44,363.83 1045.38,365.38 C1046.31,366.93 1047.27,368.48 1048.25,370.02 C1049.22,371.56 1050.22,373.10 1051.23,374.62 C1052.24,376.14 1053.28,377.66 1054.33,379.16 C1055.38,380.66 1056.45,382.14 1057.53,383.62 C1058.62,385.09 1059.73,386.54 1060.85,387.98 C1061.98,389.42 1063.12,390.84 1064.29,392.24 C1065.45,393.64 1066.63,395.03 1067.83,396.39 C1069.03,397.75 1070.25,399.09 1071.49,400.40 C1072.72,401.72 1073.98,403.01 1075.25,404.28 C1076.53,405.55 1077.82,406.80 1079.14,408.02 C1080.45,409.24 1081.78,410.44 1083.13,411.61 C1084.48,412.78 1085.85,413.93 1087.23,415.05 C1088.62,416.17 1090.03,417.27 1091.45,418.34 C1092.87,419.41 1094.32,420.45 1095.78,421.46 C1097.24,422.47 1098.72,423.46 1100.22,424.42 C1101.72,425.38 1103.24,426.31 1104.77,427.21 C1106.31,428.12 1107.86,428.99 1109.44,429.84 C1111.01,430.69 1112.60,431.51 1114.21,432.30 C1115.83,433.09 1117.46,433.86 1119.10,434.60 C1120.75,435.35 1122.42,436.06 1124.11,436.76 C1125.79,437.45 1127.50,438.12 1129.22,438.77 C1130.94,439.42 1132.68,440.05 1134.45,440.66 C1136.21,441.27 1137.98,441.86 1139.78,442.43 C1141.58,443.01 1143.40,443.57 1145.23,444.12 C1147.07,444.67 1148.92,445.21 1150.79,445.73 C1152.67,446.26 1154.56,446.78 1156.47,447.28 C1158.38,447.78 1160.31,448.27 1162.26,448.75 C1164.20,449.23 1166.17,449.70 1168.15,450.15 C1170.14,450.61 1172.14,451.05 1174.16,451.48 C1176.19,451.91 1178.23,452.32 1180.29,452.73 C1182.35,453.13 1184.42,453.53 1186.52,453.90 C1188.62,454.28 1190.73,454.65 1192.87,455.01 C1195.00,455.36 1197.16,455.70 1199.33,456.03 C1201.50,456.37 1203.69,456.68 1205.90,456.99 C1208.11,457.30 1210.33,457.59 1212.58,457.88 C1214.83,458.16 1217.09,458.43 1219.38,458.70 C1221.66,458.96 1223.96,459.21 1226.28,459.45 C1228.60,459.69 1230.94,459.92 1233.30,460.14 C1235.66,460.37 1238.04,460.58 1240.43,460.78 C1242.83,460.99 1245.24,461.18 1247.68,461.37 C1250.11,461.56 1252.56,461.74 1255.03,461.92 C1257.50,462.09 1259.99,462.26 1262.50,462.42 C1265.01,462.59 1267.54,462.75 1270.08,462.90 C1272.63,463.06 1275.19,463.21 1277.77,463.36 C1280.36,463.50 1282.96,463.65 1285.58,463.79 C1288.20,463.92 1290.84,464.06 1293.49,464.19 C1296.15,464.31 1298.83,464.44 1301.52,464.55 C1304.22,464.67 1306.93,464.78 1309.66,464.88 C1312.39,464.98 1315.14,465.07 1317.91,465.16 C1320.68,465.24 1323.47,465.32 1326.28,465.39 C1329.09,465.45 1331.91,465.51 1334.76,465.56 C1337.60,465.61 1340.46,465.65 1343.34,465.67 C1346.23,465.70 1349.13,465.71 1352.05,465.71 C1354.96,465.71 1357.90,465.70 1360.86,465.68 C1363.81,465.65 1366.79,465.61 1369.78,465.56 C1372.78,465.51 1375.79,465.44 1378.82,465.35 C1381.85,465.26 1384.90,465.16 1387.97,465.04 C1391.04,464.92 1394.13,464.78 1397.23,464.62 C1400.34,464.46 1403.46,464.29 1406.60,464.09 C1409.75,463.89 1412.91,463.67 1416.09,463.42 C1419.27,463.18 1422.47,462.92 1425.69,462.63 C1428.91,462.33 1432.14,462.02 1435.40,461.68 C1438.65,461.34 1441.93,460.97 1445.22,460.58 C1448.51,460.18 1451.82,459.76 1455.15,459.31 C1458.48,458.85 1463.53,458.10 1465.20,457.86 L1491.30,451.20 L1501.00,445.40 L1530.40,438.00 L1541.80,431.80 L1563.00,430.80 L1579.30,427.50 L1603.70,424.00 L1611.90,429.00 L1624.10,437.00 L1636.30,425.90 L1643.60,428.30 L1655.00,424.20"/>
<path class="cv" stroke="#ff0000" d="M1030.50,105.07 C1030.87,107.43 1031.95,114.54 1032.70,119.26 C1033.45,123.98 1034.22,128.69 1035.01,133.36 C1035.80,138.03 1036.61,142.68 1037.43,147.26 C1038.26,151.84 1039.10,156.38 1039.97,160.84 C1040.83,165.29 1041.71,169.69 1042.62,173.98 C1043.52,178.27 1044.44,182.49 1045.38,186.57 C1046.31,190.66 1047.27,194.64 1048.25,198.51 C1049.22,202.38 1050.22,206.12 1051.23,209.77 C1052.24,213.41 1053.28,216.94 1054.33,220.38 C1055.38,223.82 1056.45,227.14 1057.53,230.40 C1058.62,233.65 1059.73,236.80 1060.85,239.92 C1061.98,243.03 1063.12,246.05 1064.29,249.07 C1065.45,252.09 1066.63,255.06 1067.83,258.02 C1069.03,260.97 1070.25,263.91 1071.49,266.81 C1072.72,269.72 1073.98,272.60 1075.25,275.44 C1076.53,278.29 1077.82,281.10 1079.14,283.88 C1080.45,286.66 1081.78,289.40 1083.13,292.11 C1084.48,294.81 1085.85,297.48 1087.23,300.10 C1088.62,302.72 1090.03,305.31 1091.45,307.84 C1092.87,310.38 1094.32,312.88 1095.78,315.33 C1097.24,317.78 1098.72,320.18 1100.22,322.54 C1101.72,324.90 1103.24,327.21 1104.77,329.48 C1106.31,331.74 1107.86,333.96 1109.44,336.13 C1111.01,338.30 1112.60,340.42 1114.21,342.49 C1115.83,344.57 1117.46,346.60 1119.10,348.58 C1120.75,350.57 1122.42,352.50 1124.11,354.40 C1125.79,356.29 1127.50,358.14 1129.22,359.95 C1130.94,361.76 1132.68,363.53 1134.45,365.26 C1136.21,366.99 1137.98,368.68 1139.78,370.35 C1141.58,372.01 1143.40,373.64 1145.23,375.24 C1147.07,376.84 1148.92,378.41 1150.79,379.96 C1152.67,381.51 1154.56,383.02 1156.47,384.51 C1158.38,386.00 1160.31,387.46 1162.26,388.89 C1164.20,390.32 1166.17,391.71 1168.15,393.08 C1170.14,394.45 1172.14,395.79 1174.16,397.09 C1176.19,398.40 1178.23,399.67 1180.29,400.92 C1182.35,402.16 1184.42,403.37 1186.52,404.56 C1188.62,405.74 1190.73,406.89 1192.87,408.00 C1195.00,409.12 1197.16,410.21 1199.33,411.27 C1201.50,412.32 1203.69,413.35 1205.90,414.35 C1208.11,415.34 1210.33,416.31 1212.58,417.24 C1214.83,418.18 1217.09,419.09 1219.38,419.97 C1221.66,420.85 1223.96,421.70 1226.28,422.52 C1228.60,423.35 1230.94,424.14 1233.30,424.92 C1235.66,425.69 1238.04,426.44 1240.43,427.16 C1242.83,427.89 1245.24,428.59 1247.68,429.27 C1250.11,429.95 1252.56,430.61 1255.03,431.25 C1257.50,431.89 1259.99,432.51 1262.50,433.12 C1265.01,433.73 1267.54,434.32 1270.08,434.90 C1272.63,435.48 1275.19,436.05 1277.77,436.61 C1280.36,437.17 1282.96,437.72 1285.58,438.27 C1288.20,438.82 1290.84,439.36 1293.49,439.90 C1296.15,440.44 1298.83,440.98 1301.52,441.53 C1304.22,442.07 1306.93,442.61 1309.66,443.15 C1312.39,443.69 1315.14,444.22 1317.91,444.76 C1320.68,445.29 1323.47,445.81 1326.28,446.33 C1329.09,446.85 1331.91,447.37 1334.76,447.87 C1337.60,448.37 1340.46,448.87 1343.34,449.35 C1346.23,449.83 1349.13,450.30 1352.05,450.75 C1354.96,451.21 1357.90,451.65 1360.86,452.07 C1363.81,452.50 1366.79,452.90 1369.78,453.29 C1372.78,453.67 1375.79,454.04 1378.82,454.38 C1381.85,454.72 1384.90,455.04 1387.97,455.32 C1391.04,455.61 1394.13,455.88 1397.23,456.10 C1400.34,456.33 1403.46,456.54 1406.60,456.70 C1409.75,456.86 1412.91,457.00 1416.09,457.09 C1419.27,457.18 1422.47,457.23 1425.69,457.24 C1428.91,457.25 1432.14,457.22 1435.40,457.13 C1438.65,457.05 1441.93,456.93 1445.22,456.74 C1448.51,456.56 1451.82,456.33 1455.15,456.04 C1458.48,455.74 1463.53,455.16 1465.20,454.99 L1491.30,452.50 L1501.00,448.00 L1530.40,441.00 L1541.80,435.00 L1563.00,434.00 L1579.30,430.00 L1603.70,426.70 L1611.90,428.30 L1623.30,429.10 L1633.00,411.20 L1644.50,407.90 L1655.00,406.30"/>
<path class="cv" stroke="#0000ff" d="M1030.50,378.75 C1032.92,381.88 1040.50,392.08 1045.00,397.50 C1049.50,402.92 1053.33,406.88 1057.50,411.25 C1061.67,415.62 1066.67,420.42 1070.00,423.75 C1073.33,427.08 1074.58,428.96 1077.50,431.25 C1080.42,433.54 1084.17,436.17 1087.50,437.50 C1090.83,438.83 1094.17,438.08 1097.50,439.25 C1100.83,440.42 1103.75,443.33 1107.50,444.50 C1111.25,445.67 1115.83,445.33 1120.00,446.25 C1124.17,447.17 1128.33,448.88 1132.50,450.00 C1136.67,451.12 1138.75,451.77 1145.00,453.00 C1151.25,454.23 1161.67,456.08 1170.00,457.40 C1178.33,458.72 1186.67,459.87 1195.00,460.90 C1203.33,461.93 1207.50,462.70 1220.00,463.60 C1232.50,464.50 1253.33,465.60 1270.00,466.30 C1286.67,467.00 1303.33,467.55 1320.00,467.80 C1336.67,468.05 1356.67,467.93 1370.00,467.80 C1383.33,467.67 1384.13,467.72 1400.00,467.00 C1415.87,466.28 1454.33,464.08 1465.20,463.50 L1491.30,460.50 L1501.00,457.00 L1533.60,451.00 L1543.40,444.60 L1563.00,444.60 L1579.30,441.50 L1603.70,437.30 L1611.90,438.60 L1624.90,442.50 L1636.30,416.90 L1644.50,415.70 L1655.00,416.90"/>
<path class="cv" stroke="#ff00ff" d="M1030.50,413.75 C1032.92,415.42 1040.50,420.83 1045.00,423.75 C1049.50,426.67 1053.75,429.17 1057.50,431.25 C1061.25,433.33 1064.17,434.17 1067.50,436.25 C1070.83,438.33 1074.17,441.88 1077.50,443.75 C1080.83,445.62 1084.17,446.75 1087.50,447.50 C1090.83,448.25 1094.17,447.50 1097.50,448.25 C1100.83,449.00 1103.75,451.08 1107.50,452.00 C1111.25,452.92 1113.75,452.88 1120.00,453.75 C1126.25,454.62 1136.67,456.06 1145.00,457.20 C1153.33,458.34 1161.67,459.67 1170.00,460.60 C1178.33,461.53 1186.67,462.10 1195.00,462.80 C1203.33,463.50 1207.50,464.13 1220.00,464.80 C1232.50,465.47 1253.33,466.30 1270.00,466.80 C1286.67,467.30 1303.33,467.63 1320.00,467.80 C1336.67,467.97 1356.67,467.93 1370.00,467.80 C1383.33,467.67 1384.13,467.60 1400.00,467.00 C1415.87,466.40 1454.33,464.67 1465.20,464.20 L1491.30,461.70 L1501.00,458.40 L1533.60,452.70 L1543.40,446.20 L1563.00,446.20 L1579.30,443.00 L1603.70,438.90 L1611.90,441.30 L1624.90,444.30 L1634.70,424.20 L1644.50,421.00 L1655.00,422.00"/>
<path class="cv" stroke="#008000" d="M1030.50,291.73 C1030.87,293.06 1031.95,297.07 1032.70,299.73 C1033.45,302.40 1034.22,305.06 1035.01,307.70 C1035.80,310.34 1036.61,312.98 1037.43,315.59 C1038.26,318.20 1039.10,320.79 1039.97,323.35 C1040.83,325.91 1041.71,328.45 1042.62,330.95 C1043.52,333.45 1044.44,335.92 1045.38,338.35 C1046.31,340.79 1047.27,343.18 1048.25,345.54 C1049.22,347.89 1050.22,350.20 1051.23,352.47 C1052.24,354.74 1053.28,356.96 1054.33,359.14 C1055.38,361.32 1056.45,363.46 1057.53,365.55 C1058.62,367.64 1059.73,369.69 1060.85,371.69 C1061.98,373.69 1063.12,375.65 1064.29,377.58 C1065.45,379.50 1066.63,381.38 1067.83,383.23 C1069.03,385.08 1070.25,386.90 1071.49,388.69 C1072.72,390.48 1073.98,392.24 1075.25,393.96 C1076.53,395.69 1077.82,397.39 1079.14,399.05 C1080.45,400.70 1081.78,402.33 1083.13,403.92 C1084.48,405.51 1085.85,407.06 1087.23,408.57 C1088.62,410.08 1090.03,411.56 1091.45,412.99 C1092.87,414.43 1094.32,415.82 1095.78,417.18 C1097.24,418.53 1098.72,419.84 1100.22,421.12 C1101.72,422.39 1103.24,423.62 1104.77,424.81 C1106.31,426.00 1107.86,427.15 1109.44,428.25 C1111.01,429.36 1112.60,430.43 1114.21,431.46 C1115.83,432.49 1117.46,433.48 1119.10,434.43 C1120.75,435.38 1122.42,436.29 1124.11,437.18 C1125.79,438.06 1127.50,438.90 1129.22,439.71 C1130.94,440.53 1132.68,441.31 1134.45,442.06 C1136.21,442.82 1137.98,443.54 1139.78,444.25 C1141.58,444.95 1143.40,445.63 1145.23,446.30 C1147.07,446.96 1148.92,447.61 1150.79,448.24 C1152.67,448.87 1154.56,449.48 1156.47,450.07 C1158.38,450.66 1160.31,451.24 1162.26,451.79 C1164.20,452.35 1166.17,452.89 1168.15,453.41 C1170.14,453.92 1172.14,454.43 1174.16,454.91 C1176.19,455.39 1178.23,455.85 1180.29,456.29 C1182.35,456.74 1184.42,457.16 1186.52,457.57 C1188.62,457.98 1190.73,458.37 1192.87,458.74 C1195.00,459.11 1197.16,459.46 1199.33,459.79 C1201.50,460.13 1203.69,460.44 1205.90,460.74 C1208.11,461.04 1210.33,461.33 1212.58,461.59 C1214.83,461.86 1217.09,462.11 1219.38,462.34 C1221.66,462.58 1223.96,462.79 1226.28,463.00 C1228.60,463.20 1230.94,463.39 1233.30,463.57 C1235.66,463.75 1238.04,463.91 1240.43,464.06 C1242.83,464.21 1245.24,464.35 1247.68,464.48 C1250.11,464.61 1252.56,464.73 1255.03,464.84 C1257.50,464.96 1259.99,465.06 1262.50,465.16 C1265.01,465.25 1267.54,465.34 1270.08,465.43 C1272.63,465.52 1275.19,465.60 1277.77,465.68 C1280.36,465.76 1282.96,465.83 1285.58,465.90 C1288.20,465.97 1290.84,466.04 1293.49,466.09 C1296.15,466.15 1298.83,466.21 1301.52,466.25 C1304.22,466.30 1306.93,466.34 1309.66,466.38 C1312.39,466.42 1315.14,466.44 1317.91,466.47 C1320.68,466.49 1323.47,466.51 1326.28,466.51 C1329.09,466.52 1331.91,466.52 1334.76,466.52 C1337.60,466.51 1340.46,466.49 1343.34,466.47 C1346.23,466.44 1349.13,466.41 1352.05,466.37 C1354.96,466.33 1357.90,466.28 1360.86,466.22 C1363.81,466.16 1366.79,466.09 1369.78,466.00 C1372.78,465.92 1375.79,465.83 1378.82,465.73 C1381.85,465.62 1384.90,465.51 1387.97,465.38 C1391.04,465.26 1394.13,465.12 1397.23,464.97 C1400.34,464.82 1403.46,464.65 1406.60,464.47 C1409.75,464.29 1412.91,464.10 1416.09,463.90 C1419.27,463.69 1422.47,463.47 1425.69,463.23 C1428.91,463.00 1432.14,462.75 1435.40,462.48 C1438.65,462.21 1441.93,461.93 1445.22,461.62 C1448.51,461.32 1451.82,461.01 1455.15,460.67 C1458.48,460.33 1463.53,459.78 1465.20,459.60 L1491.30,454.40 L1501.00,449.50 L1530.40,442.20 L1541.80,435.60 L1563.00,435.60 L1579.30,431.60 L1603.70,428.30 L1611.90,431.00 L1624.10,437.30 L1636.30,421.00 L1644.50,420.10 L1655.00,421.80"/>
<path class="cv" stroke="#ff8000" d="M1030.50,203.74 C1030.87,205.07 1031.95,209.02 1032.70,211.71 C1033.45,214.40 1034.22,217.14 1035.01,219.90 C1035.80,222.67 1036.61,225.47 1037.43,228.29 C1038.26,231.12 1039.10,233.97 1039.97,236.85 C1040.83,239.73 1041.71,242.63 1042.62,245.56 C1043.52,248.48 1044.44,251.42 1045.38,254.38 C1046.31,257.34 1047.27,260.32 1048.25,263.31 C1049.22,266.29 1050.22,269.30 1051.23,272.30 C1052.24,275.31 1053.28,278.33 1054.33,281.35 C1055.38,284.37 1056.45,287.40 1057.53,290.43 C1058.62,293.45 1059.73,296.48 1060.85,299.50 C1061.98,302.53 1063.12,305.55 1064.29,308.57 C1065.45,311.58 1066.63,314.59 1067.83,317.59 C1069.03,320.59 1070.25,323.59 1071.49,326.56 C1072.72,329.54 1073.98,332.51 1075.25,335.46 C1076.53,338.41 1077.82,341.35 1079.14,344.27 C1080.45,347.19 1081.78,350.10 1083.13,352.98 C1084.48,355.86 1085.85,358.73 1087.23,361.56 C1088.62,364.39 1090.03,367.20 1091.45,369.95 C1092.87,372.70 1094.32,375.42 1095.78,378.06 C1097.24,380.71 1098.72,383.31 1100.22,385.82 C1101.72,388.33 1103.24,390.78 1104.77,393.13 C1106.31,395.48 1107.86,397.75 1109.44,399.94 C1111.01,402.12 1112.60,404.22 1114.21,406.23 C1115.83,408.25 1117.46,410.18 1119.10,412.03 C1120.75,413.88 1122.42,415.64 1124.11,417.33 C1125.79,419.02 1127.50,420.63 1129.22,422.17 C1130.94,423.71 1132.68,425.17 1134.45,426.58 C1136.21,428.00 1137.98,429.33 1139.78,430.63 C1141.58,431.93 1143.40,433.17 1145.23,434.38 C1147.07,435.59 1148.92,436.76 1150.79,437.89 C1152.67,439.02 1154.56,440.11 1156.47,441.16 C1158.38,442.21 1160.31,443.22 1162.26,444.19 C1164.20,445.16 1166.17,446.09 1168.15,446.98 C1170.14,447.87 1172.14,448.72 1174.16,449.53 C1176.19,450.34 1178.23,451.11 1180.29,451.84 C1182.35,452.57 1184.42,453.27 1186.52,453.92 C1188.62,454.57 1190.73,455.19 1192.87,455.77 C1195.00,456.35 1197.16,456.89 1199.33,457.39 C1201.50,457.90 1203.69,458.37 1205.90,458.80 C1208.11,459.24 1210.33,459.64 1212.58,460.01 C1214.83,460.38 1217.09,460.72 1219.38,461.03 C1221.66,461.34 1223.96,461.61 1226.28,461.87 C1228.60,462.12 1230.94,462.35 1233.30,462.56 C1235.66,462.76 1238.04,462.94 1240.43,463.11 C1242.83,463.27 1245.24,463.41 1247.68,463.55 C1250.11,463.68 1252.56,463.79 1255.03,463.90 C1257.50,464.00 1259.99,464.10 1262.50,464.19 C1265.01,464.28 1267.54,464.37 1270.08,464.46 C1272.63,464.55 1275.19,464.64 1277.77,464.73 C1280.36,464.82 1282.96,464.91 1285.58,465.00 C1288.20,465.09 1290.84,465.18 1293.49,465.27 C1296.15,465.36 1298.83,465.45 1301.52,465.54 C1304.22,465.62 1306.93,465.71 1309.66,465.79 C1312.39,465.87 1315.14,465.95 1317.91,466.03 C1320.68,466.11 1323.47,466.18 1326.28,466.25 C1329.09,466.32 1331.91,466.38 1334.76,466.44 C1337.60,466.50 1340.46,466.55 1343.34,466.59 C1346.23,466.64 1349.13,466.68 1352.05,466.71 C1354.96,466.73 1357.90,466.76 1360.86,466.77 C1363.81,466.78 1366.79,466.78 1369.78,466.77 C1372.78,466.76 1375.79,466.75 1378.82,466.71 C1381.85,466.68 1384.90,466.64 1387.97,466.58 C1391.04,466.52 1394.13,466.44 1397.23,466.35 C1400.34,466.26 1403.46,466.16 1406.60,466.04 C1409.75,465.91 1412.91,465.77 1416.09,465.61 C1419.27,465.45 1422.47,465.27 1425.69,465.07 C1428.91,464.87 1432.14,464.65 1435.40,464.40 C1438.65,464.15 1441.93,463.88 1445.22,463.59 C1448.51,463.29 1451.82,462.97 1455.15,462.62 C1458.48,462.27 1463.53,461.67 1465.20,461.48 L1491.30,458.40 L1501.00,454.40 L1530.40,447.90 L1541.80,439.70 L1563.00,440.80 L1579.30,437.30 L1603.70,433.20 L1611.90,434.80 L1624.10,438.10 L1634.70,414.40 L1644.50,412.00 L1655.00,411.20"/>
</g>
<text transform="translate(1015.60,129.60) scale(1.045,1.090)" font-size="28" text-anchor="end">0.20</text>
<text transform="translate(1015.60,218.00) scale(1.045,1.090)" font-size="28" text-anchor="end">0.15</text>
<text transform="translate(1015.60,306.40) scale(1.045,1.090)" font-size="28" text-anchor="end">0.10</text>
<text transform="translate(1015.60,394.80) scale(1.045,1.090)" font-size="28" text-anchor="end">0.05</text>
<text transform="translate(1015.60,483.20) scale(1.045,1.090)" font-size="28" text-anchor="end">0.00</text>
<text transform="translate(1030.60,560.90) scale(1.050,1.040)" font-size="28.3" text-anchor="middle">10<tspan font-size="16" dy="-15.4">-2</tspan></text>
<text transform="translate(1099.94,560.90) scale(1.050,1.040)" font-size="28.3" text-anchor="middle">10<tspan font-size="16" dy="-15.4">-1</tspan></text>
<text transform="translate(1169.28,560.90) scale(1.050,1.040)" font-size="28.3" text-anchor="middle">10<tspan font-size="16" dy="-15.4">0</tspan></text>
<text transform="translate(1238.62,560.90) scale(1.050,1.040)" font-size="28.3" text-anchor="middle">10<tspan font-size="16" dy="-15.4">1</tspan></text>
<text transform="translate(1307.96,560.90) scale(1.050,1.040)" font-size="28.3" text-anchor="middle">10<tspan font-size="16" dy="-15.4">2</tspan></text>
<text transform="translate(1377.30,560.90) scale(1.050,1.040)" font-size="28.3" text-anchor="middle">10<tspan font-size="16" dy="-15.4">3</tspan></text>
<text transform="translate(1446.64,560.90) scale(1.050,1.040)" font-size="28.3" text-anchor="middle">10<tspan font-size="16" dy="-15.4">4</tspan></text>
<text transform="translate(1515.98,560.90) scale(1.050,1.040)" font-size="28.3" text-anchor="middle">10<tspan font-size="16" dy="-15.4">5</tspan></text>
<text transform="translate(1585.32,560.90) scale(1.050,1.040)" font-size="28.3" text-anchor="middle">10<tspan font-size="16" dy="-15.4">6</tspan></text>
<text transform="translate(1654.66,560.90) scale(1.050,1.040)" font-size="28.3" text-anchor="middle">10<tspan font-size="16" dy="-15.4">7</tspan></text>
<text transform="translate(1198.00,617.80) scale(1.050,1.015)" font-size="38.5">Frequency (Hz)</text>
<text transform="translate(884.60,38.70) scale(1.030,1.000)" font-size="47.8">B</text>
<text transform="translate(876.70,261.80) scale(1.110,1.000)" font-size="42" class="serif">tan δ</text>
<rect x="1319.50" y="16.70" width="400.00" height="215.60" fill="#fff" stroke="#000" stroke-width="1.1"/>
<path class="cv" stroke="#000000" stroke-width="6" d="M1341.60,39.80 H1407.60"/>
<text transform="translate(1417.20,49.65) scale(1.060,0.985)" font-size="27.5">Unfilled epoxy</text>
<path class="cv" stroke="#ff0000" stroke-width="6" d="M1341.60,75.00 H1407.60"/>
<text transform="translate(1417.20,84.85) scale(1.060,0.985)" font-size="27.5">Epoxy/ 0.0625 % GFs</text>
<path class="cv" stroke="#0000ff" stroke-width="6" d="M1341.60,110.20 H1407.60"/>
<text transform="translate(1417.20,120.05) scale(1.060,0.985)" font-size="27.5">Epoxy/ 0.125% GFs</text>
<path class="cv" stroke="#ff00ff" stroke-width="6" d="M1341.60,145.40 H1407.60"/>
<text transform="translate(1417.20,155.25) scale(1.060,0.985)" font-size="27.5">Epoxy/ 0.25% GFs</text>
<path class="cv" stroke="#008000" stroke-width="6" d="M1341.60,180.60 H1407.60"/>
<text transform="translate(1417.20,190.45) scale(1.060,0.985)" font-size="27.5">Epoxy/ 0.5% GFs</text>
<path class="cv" stroke="#ff8000" stroke-width="6" d="M1341.60,215.80 H1407.60"/>
<text transform="translate(1417.20,225.65) scale(1.060,0.985)" font-size="27.5">Epoxy/ 1% GFs</text>
</g>
</svg></body></html>
